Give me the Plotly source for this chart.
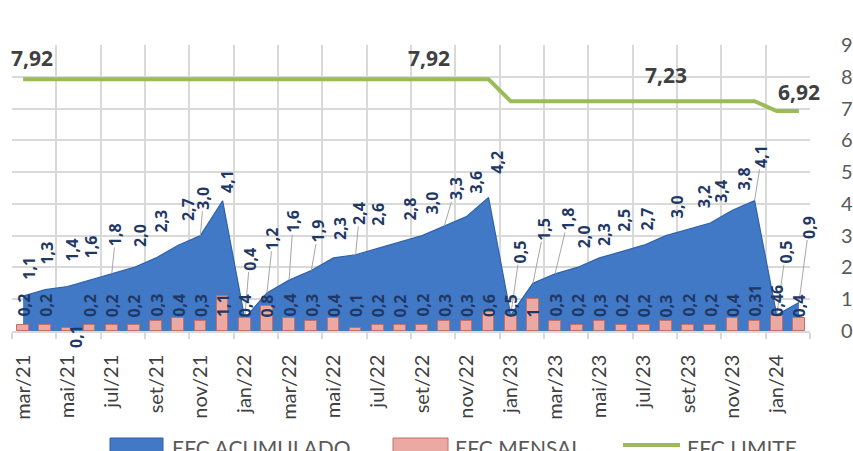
import plotly.graph_objects as go

# ---- data -----------------------------------------------------------------
meses = ["mar/21", "abr/21", "mai/21", "jun/21", "jul/21", "ago/21", "set/21", "out/21",
         "nov/21", "dez/21", "jan/22", "fev/22", "mar/22", "abr/22", "mai/22", "jun/22",
         "jul/22", "ago/22", "set/22", "out/22", "nov/22", "dez/22", "jan/23", "fev/23",
         "mar/23", "abr/23", "mai/23", "jun/23", "jul/23", "ago/23", "set/23", "out/23",
         "nov/23", "dez/23", "jan/24", "fev/24"]

efc_acumulado = [1.1, 1.3, 1.4, 1.6, 1.8, 2.0, 2.3, 2.7, 3.0, 4.1, 0.4, 1.2,
                 1.6, 1.9, 2.3, 2.4, 2.6, 2.8, 3.0, 3.3, 3.6, 4.2, 0.5, 1.5,
                 1.8, 2.0, 2.3, 2.5, 2.7, 3.0, 3.2, 3.4, 3.8, 4.1, 0.5, 0.9]

efc_mensal = [0.2, 0.2, 0.1, 0.2, 0.2, 0.2, 0.3, 0.4, 0.3, 1.1, 0.4, 0.8,
              0.4, 0.3, 0.4, 0.1, 0.2, 0.2, 0.2, 0.3, 0.3, 0.6, 0.5, 1.0,
              0.3, 0.2, 0.3, 0.2, 0.2, 0.3, 0.2, 0.2, 0.4, 0.31, 0.46, 0.4]

efc_limite = [7.92, 7.92, 7.92, 7.92, 7.92, 7.92, 7.92, 7.92, 7.92, 7.92, 7.92, 7.92,
              7.92, 7.92, 7.92, 7.92, 7.92, 7.92, 7.92, 7.92, 7.92, 7.92, 7.23, 7.23,
              7.23, 7.23, 7.23, 7.23, 7.23, 7.23, 7.23, 7.23, 7.23, 7.23, 6.92, 6.92]

# months whose limit value is written above the line
limite_rotulos = [0, 18, 29, 35]

# ---- label placement (pixels) ---------------------------------------------
acum_dx = [6, 2, 5, 1, 4, 6, 4, 10, 3, 5, 5, 6,
           4, 7, 6, 4, 0, 10, 10, 11, 10, 9, 9, 11,
           13, 7, 4, 3, 3, 11, 16, 10, 11, 7, 9, 10]
acum_gap = [14, 23, 23, 20, 26, 19, 23, 22, 24, 6, 46, 41,
            45, 26, 16, 28, 21, 20, 19, 24, 21, 22, 50, 41,
            41, 17, 10, 18, 13, 16, 19, 18, 18, 31, 50, 62]
# monthly labels moved off their default spot: index -> (dx, dy)
mensal_ajuste = {2: (8, -19)}
limite_shift = {0: (9, 21), 18: (7, 21), 29: (0, 26), 35: (0, 19)}

x = list(range(len(meses)))

AXIS_GREY = "#d9d9d9"
LABEL_NAVY = "#1f3864"
FONT = "Lato"
LABEL_FONT = "Open Sans"

fig = go.Figure()

# accumulated area (base axes, drawn underneath)
fig.add_trace(go.Scatter(
    x=x, y=efc_acumulado, mode="lines", fill="tozeroy",
    line=dict(color="#2f62aa", width=1.2),
    fillcolor="#4179c7",
    name="EFC ACUMULADO", showlegend=False, yaxis="y"))

# monthly bars (overlay axes, drawn over the area)
fig.add_trace(go.Bar(
    x=x, y=efc_mensal, width=0.53,
    marker=dict(color="#eaa9a2", line=dict(color="#c27069", width=1)),
    name="EFC MENSAL", showlegend=False, yaxis="y2"))

# limit line
fig.add_trace(go.Scatter(
    x=x, y=efc_limite, mode="lines",
    line=dict(color="#9bbb59", width=4),
    name="EFC LIMITE", showlegend=False, yaxis="y2"))

annotations = []


def fmt1(v):
    return f"{v:.1f}".replace(".", ",")


def fmt_geral(v):
    return f"{v:g}".replace(".", ",")


# accumulated labels
for i, v in enumerate(efc_acumulado):
    txt = fmt1(v)
    half = 3.8 * len(txt) + 2
    gap = acum_gap[i]
    annotations.append(dict(
        x=i, y=v, xref="x", yref="y", text=txt, textangle=-90,
        showarrow=True, arrowhead=0, arrowwidth=1,
        arrowcolor="#a6a6a6" if gap >= 24 else "rgba(0,0,0,0)",
        ax=acum_dx[i], ay=-(gap + half),
        font=dict(family=LABEL_FONT, size=16, color=LABEL_NAVY, weight="bold")))

# monthly labels, sitting just above the baseline
for i, v in enumerate(efc_mensal):
    dx, dy = mensal_ajuste.get(i, (0, 12))
    annotations.append(dict(
        x=i, y=0, xref="x", yref="y", text=fmt_geral(v), textangle=-90,
        showarrow=False, yanchor="bottom", xanchor="center",
        xshift=dx, yshift=dy,
        font=dict(family=LABEL_FONT, size=16, color=LABEL_NAVY, weight="bold")))

# limit labels
for i in limite_rotulos:
    dx, dy = limite_shift[i]
    annotations.append(dict(
        x=i, y=efc_limite[i], xref="x", yref="y", text=fmt_geral(efc_limite[i]),
        showarrow=False, xanchor="center", yanchor="middle",
        xshift=dx, yshift=dy,
        font=dict(family=LABEL_FONT, size=21, color="#404040", weight="bold")))

# legend (below the axis labels)
PLOT_L, PLOT_R, PLOT_T, PLOT_B = 12, 810, 45, 331


def px_x(p):
    return (p - PLOT_L) / (PLOT_R - PLOT_L)


def px_y(p):
    return (PLOT_B - p) / (PLOT_B - PLOT_T)


legend_items = [("EFC ACUMULADO", 170), ("EFC MENSAL", 453), ("EFC LIMITE", 685)]
for txt, left in legend_items:
    annotations.append(dict(
        x=px_x(left), y=px_y(447), xref="paper", yref="paper", text=txt,
        showarrow=False, xanchor="left", yanchor="middle",
        font=dict(family=FONT, size=21, color="#595959")))

shapes = [
    dict(type="rect", xref="paper", yref="paper",
         x0=px_x(110), x1=px_x(163), y0=px_y(438), y1=px_y(470),
         fillcolor="#4179c7", line=dict(color="#2f62aa", width=1), layer="above"),
    dict(type="rect", xref="paper", yref="paper",
         x0=px_x(393), x1=px_x(448), y0=px_y(438), y1=px_y(470),
         fillcolor="#eaa9a2", line=dict(color="#c27069", width=1), layer="above"),
    dict(type="line", xref="paper", yref="paper",
         x0=px_x(623), x1=px_x(680), y0=px_y(445), y1=px_y(445),
         line=dict(color="#9bbb59", width=4), layer="above"),
]

fig.update_layout(
    width=853, height=451,
    margin=dict(l=PLOT_L, r=853 - PLOT_R, t=PLOT_T, b=451 - PLOT_B, pad=0,
                autoexpand=False),
    paper_bgcolor="white", plot_bgcolor="white",
    bargap=0, showlegend=False,
    annotations=annotations, shapes=shapes,
    xaxis=dict(
        range=[-0.5, len(meses) - 0.5], automargin=False,
        tickmode="array", tickvals=x[::2], ticktext=meses[::2],
        tickangle=-90, ticks="", showgrid=False, zeroline=False,
        ticklabelstandoff=14,
        tickfont=dict(family=FONT, size=20, color="#404040"),
        showline=True, linecolor=AXIS_GREY, linewidth=1.5,
        minor=dict(tickmode="array",
                   tickvals=[k - 0.5 for k in range(0, len(meses) + 1, 2)],
                   showgrid=True, gridcolor=AXIS_GREY, gridwidth=1.5,
                   ticks="outside", ticklen=6, tickcolor=AXIS_GREY, tickwidth=1.5),
    ),
    yaxis=dict(
        range=[0, 9], dtick=1, side="right", showgrid=True, automargin=False,
        gridcolor=AXIS_GREY, gridwidth=1.5, zeroline=False,
        ticks="", ticklabelstandoff=30,
        tickfont=dict(family=FONT, size=20, color="#595959"),
    ),
    yaxis2=dict(
        range=[0, 9], overlaying="y", side="right", showgrid=False,
        zeroline=False, showticklabels=False, ticks="", automargin=False,
    ),
)

fig.write_html("out.html")
